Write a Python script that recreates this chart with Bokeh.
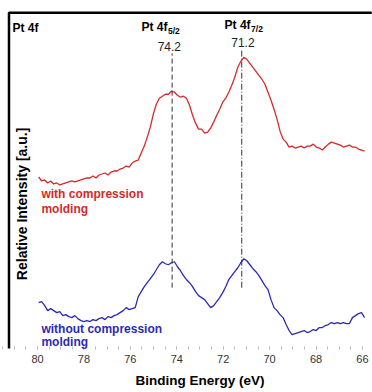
import math
from bokeh.plotting import figure
from bokeh.models import Range1d, Label, SingleIntervalTicker, Title
from bokeh.embed import file_html
from bokeh.resources import INLINE

# ---- data ----
binding_energy = [
    79.95, 79.82, 79.69, 79.56, 79.43, 79.30, 79.17, 79.04, 78.91, 78.78,
    78.65, 78.52, 78.39, 78.26, 78.13, 78.00, 77.87, 77.74, 77.61, 77.48,
    77.35, 77.22, 77.09, 76.96, 76.83, 76.70, 76.57, 76.44, 76.31, 76.18,
    76.05, 75.92, 75.79, 75.66, 75.53, 75.40, 75.27, 75.14, 75.01, 74.88,
    74.75, 74.62, 74.49, 74.36, 74.23, 74.10, 73.97, 73.84, 73.71, 73.58,
    73.45, 73.32, 73.19, 73.06, 72.93, 72.80, 72.67, 72.54, 72.41, 72.28,
    72.15, 72.02, 71.89, 71.76, 71.63, 71.50, 71.37, 71.24, 71.11, 70.98,
    70.85, 70.72, 70.59, 70.46, 70.33, 70.20, 70.07, 69.94, 69.81, 69.68,
    69.55, 69.42, 69.29, 69.16, 69.03, 68.90, 68.77, 68.64, 68.51, 68.38,
    68.25, 68.12, 67.99, 67.86, 67.73, 67.60, 67.47, 67.34, 67.21, 67.08,
    66.95, 66.82, 66.69, 66.56, 66.43, 66.30, 66.17, 66.04, 65.91,
]

intensity_with = [
    215, 211, 212, 209, 211, 208, 209, 207, 208, 209,
    210, 211, 210, 211, 212, 213, 214, 214, 216, 214,
    217, 218, 219, 217, 220, 221, 221, 223, 224, 226,
    225, 229, 231, 232, 239, 246, 255, 265, 278, 288,
    294, 296, 298, 298, 301, 300, 297, 295, 296, 294,
    287, 277, 269, 263, 263, 259, 260, 264, 270, 277,
    283, 290, 294, 300, 307, 315, 325, 331, 335, 333,
    329, 325, 321, 317, 313, 308, 300, 292, 283, 273,
    261, 253, 250, 245, 246, 244, 245, 246, 244, 246,
    246, 248, 245, 244, 242, 245, 248, 250, 249, 248,
    247, 245, 246, 247, 245, 245, 243, 242, 241,
]

intensity_without = [
    89, 90, 86, 81, 83, 81, 79, 80, 76, 77,
    75, 74, 76, 73, 71, 70, 71, 70, 72, 71,
    73, 74, 72, 75, 74, 76, 77, 79, 81, 84,
    82, 83, 84, 95, 100, 105, 109, 113, 117, 122,
    127, 130, 128, 127, 129, 130, 125, 121, 116, 112,
    109, 105, 100, 96, 94, 92, 88, 84, 86, 90,
    94, 99, 105, 112, 116, 120, 124, 129, 133, 131,
    127, 123, 120, 116, 111, 106, 102, 92, 84, 81,
    77, 74, 67, 61, 57, 58, 59, 60, 61, 59,
    60, 62, 61, 64, 64, 66, 67, 69, 68, 69,
    68, 69, 68, 68, 74, 76, 78, 79, 74,
]

peak_energies = [74.2, 71.2]
peak_labels = ["74.2", "71.2"]
peak_names = ["Pt 4f", "Pt 4f"]
peak_subs = ["5/2", "7/2"]
series_names = [["with compression", "molding"], ["without compression", "molding"]]

RED = "#d42a2a"
BLUE = "#2a2ab4"
FONT = "Liberation Sans"

X0, X1 = 81.594, 65.567
Y0, Y1 = 42, 392

p = figure(width=372, height=392, x_range=Range1d(X0, X1), y_range=Range1d(Y0, Y1),
           output_backend="svg", toolbar_location=None, title=None,
           y_axis_location=None, x_axis_location="below",
           min_border_left=0, min_border_right=0, min_border_top=0, min_border_bottom=42)
p.outline_line_color = None
p.grid.visible = False
p.background_fill_color = "white"
p.border_fill_color = "white"

ax = p.xaxis[0]
ax.ticker = SingleIntervalTicker(interval=2, num_minor_ticks=4)
ax.axis_line_color = None
ax.major_tick_line_color = "#bbbbbb"
ax.minor_tick_line_color = "#bbbbbb"
ax.major_tick_in = 3
ax.major_tick_out = 0
ax.minor_tick_in = 3
ax.minor_tick_out = 0
ax.major_label_text_font = FONT
ax.major_label_text_font_size = "11px"
ax.major_label_text_color = "#333333"
ax.major_label_standoff = 5

p.add_layout(Title(text="Binding Energy (eV)", align="left", offset=135, standoff=10,
                   text_font=FONT, text_font_size="13.5px", text_font_style="bold",
                   text_color="black"), "below")

n1 = min(len(binding_energy), len(intensity_with))
n2 = min(len(binding_energy), len(intensity_without))
p.line(binding_energy[:n1], intensity_with[:n1], line_color=RED, line_width=1.3)
p.line(binding_energy[:n2], intensity_without[:n2], line_color=BLUE, line_width=1.3)

# peak marker lines
p.segment(x0=[peak_energies[0]], y0=[104], x1=[peak_energies[0]], y1=[339],
          line_color="#333333", line_width=1, line_dash="5 3")
p.segment(x0=[peak_energies[1]], y0=[104], x1=[peak_energies[1]], y1=[342],
          line_color="#333333", line_width=1, line_dash="6 2 1 2")

# frame border (left and top) as one polyline, drawn after the curves
p.line(x=[81.228, 81.228, 65.6], y=[43, 379.7, 379.7],
       line_color="#000000", line_width=2.5)

def lab(x, y, text, size="12px", bold=True, color="black", align="left", angle=0.0):
    p.add_layout(Label(x=x, y=y, text=text, text_font=FONT, text_font_size=size,
                       text_font_style="bold" if bold else "normal", text_color=color,
                       text_align=align, text_baseline="middle", angle=angle))

lab(81.08, 364, "Pt 4f")
# peak titles
lab(peak_energies[0] + 0.20, 365, peak_names[0], align="right")
lab(peak_energies[0] + 0.18, 361, peak_subs[0], size="8.5px")
lab(peak_energies[0] + 0.12, 346, peak_labels[0], bold=False, color="#222222", align="center")
lab(peak_energies[1] - 0.38, 367, peak_names[1], align="right")
lab(peak_energies[1] - 0.40, 363, peak_subs[1], size="8.5px")
lab(peak_energies[1] - 0.05, 350, peak_labels[1], bold=False, color="#222222", align="center")

# series labels
lab(79.83, 198, series_names[0][0], color=RED)
lab(79.83, 183, series_names[0][1], color=RED)
lab(79.83, 63, series_names[1][0], color=BLUE)
lab(79.83, 50, series_names[1][1], color=BLUE)

# y axis title
lab(80.65, 188, "Relative Intensity [a.u.]", size="14px", align="center", angle=math.pi / 2)

open("out.html", "w").write(file_html(p, INLINE))
